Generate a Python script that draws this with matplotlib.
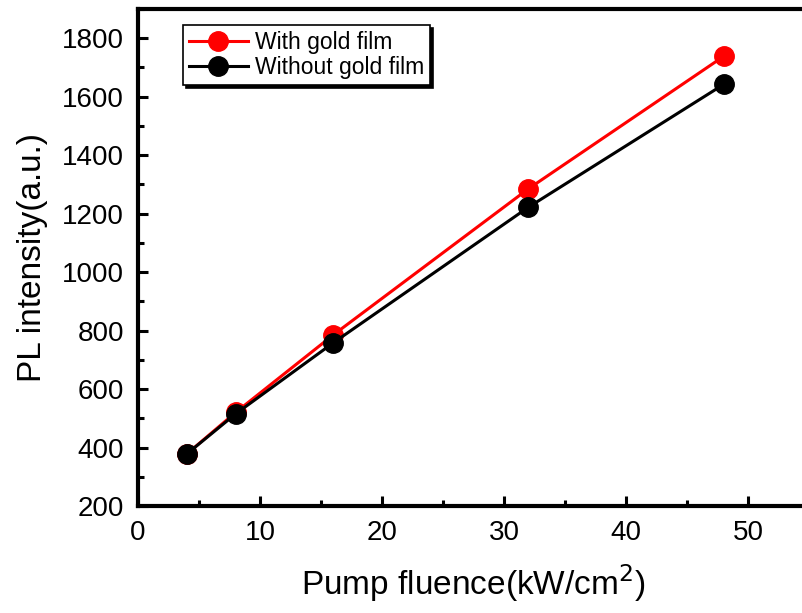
import matplotlib
matplotlib.use("Agg")
import matplotlib.pyplot as plt
from matplotlib.ticker import MultipleLocator

plt.rcParams['font.family'] = ['Liberation Sans', 'DejaVu Sans']

fluence = [4, 8, 16, 32, 48]
with_gold = [378, 520, 785, 1285, 1738]
without_gold = [378, 515, 758, 1222, 1642]

fig = plt.figure(figsize=(8.02, 6.13), dpi=100)
ax = fig.add_axes([138/802, 1-506/613, 671/802, 497/613])

ax.plot(fluence, with_gold, '-o', color='#ff0000', lw=2.2, ms=14, label='With gold film', zorder=3)
ax.plot(fluence, without_gold, '-o', color='black', lw=2.2, ms=14, label='Without gold film', zorder=3)

ax.set_xlim(0, 55)
ax.set_ylim(200, 1900)
ax.xaxis.set_major_locator(MultipleLocator(10))
ax.xaxis.set_minor_locator(MultipleLocator(5))
ax.yaxis.set_major_locator(MultipleLocator(200))
ax.yaxis.set_minor_locator(MultipleLocator(100))
ax.tick_params(which='both', direction='in', width=2.2, labelsize=20, pad=10)
ax.tick_params(which='major', length=7)
ax.tick_params(which='minor', length=4)
for s in ax.spines.values():
    s.set_linewidth(3)

ax.set_xlabel('Pump fluence(kW/cm$^2$)', fontsize=24, labelpad=12)
ax.set_ylabel('PL intensity(a.u.)', fontsize=24, labelpad=10)

leg = ax.legend(loc='upper left', bbox_to_anchor=(0.067, 0.967), fontsize=16.5, frameon=True,
                fancybox=False, shadow={'color': 'black', 'alpha': 1}, borderpad=0.25,
                handlelength=2.6, handletextpad=0.3, labelspacing=0.1, borderaxespad=0)
leg.get_frame().set_edgecolor('black')
leg.get_frame().set_linewidth(1.2)

fig.savefig('out.png', dpi=100)
